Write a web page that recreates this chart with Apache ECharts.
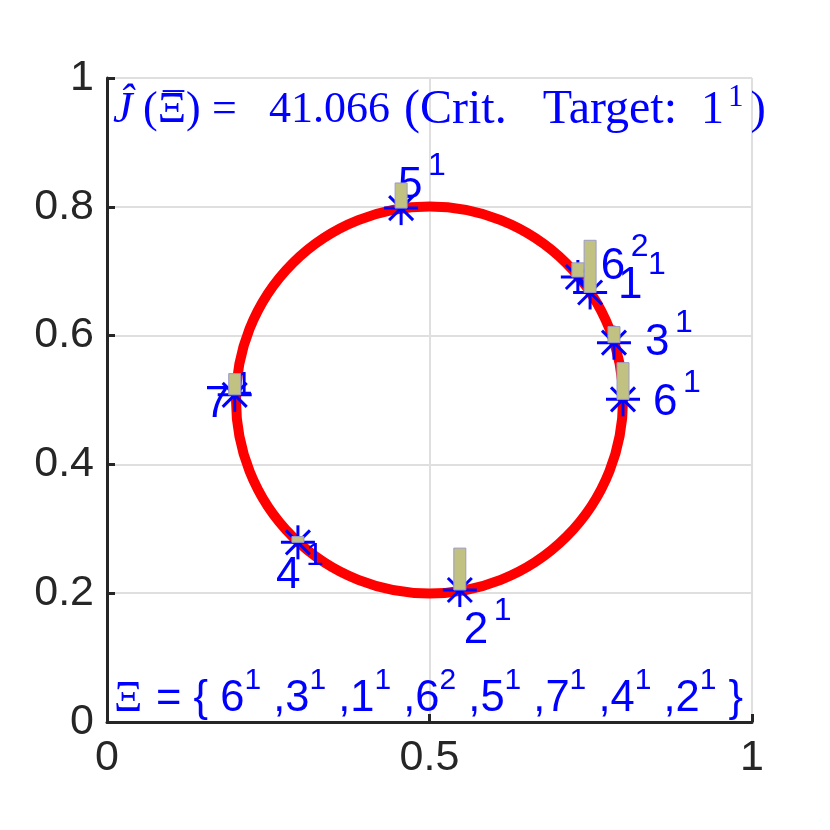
<!DOCTYPE html>
<html>
<head>
<meta charset="utf-8">
<script src="https://cdn.jsdelivr.net/npm/echarts@6/dist/echarts.min.js"></script>
<style>
  html, body { margin: 0; padding: 0; background: #fff; }
  #chart { width: 830px; height: 830px; }
</style>
</head>
<body>
<div id="chart"></div>
<script>
// route points (x, y) with their node id and visit number
const nodeIds = ['6', '3', '1', '6', '5', '7', '4', '2'];
const visits = ['1', '1', '1', '2', '1', '1', '1', '1'];
const xs = [0.800, 0.786, 0.749, 0.730, 0.456, 0.198, 0.296, 0.547];
const ys = [0.501, 0.589, 0.667, 0.691, 0.798, 0.508, 0.279, 0.205];
// height of the little bar drawn above each point
const barHeights = [0.057, 0.025, 0.081, 0.022, 0.039, 0.033, 0.009, 0.065];

// reference circle: centre and radius
const circleCenter = [0.5, 0.5];
const circleRadius = 0.3;

const costValue = '41.066';
const critTarget = '1';
const critVisit = '1';

// label placement next to each point (pixels from the point: left edge, middle)
const labelOffsets = [[30, 4], [31, 0], [28, -7], [23, -10], [-3, -22], [-30, 10], [-22, 34], [4, 41]];

const BLUE = '#0000ff';
const AXIS = '#262626';

const chart = echarts.init(document.getElementById('chart'));

const pointData = xs.map((x, i) => [x, ys[i], barHeights[i], i]);

// Ξ = { 6¹ ,3¹ ,... }
const routeText = '{x|Ξ} = { ' +
  nodeIds.map((n, i) => n + '{s|' + visits[i] + '}').join(' ,') + ' }';

// latex-like title; the first pieces sit in boxes to keep the wide math spacing
const serif = (extra) => Object.assign({
  fontFamily: 'Liberation Serif', fontSize: 44, fontWeight: 'normal', color: BLUE, lineHeight: 57
}, extra);

chart.setOption({
  animation: false,
  backgroundColor: '#fff',
  title: [
    {
      left: 113,
      top: 82,
      padding: 0,
      text: '{a|Ĵ}{b|(Ξ)}{c|=}{d|' + costValue + '}{e|(Crit.   Target:  }{g|' + critTarget + '}{s|' + critVisit + '}{h|)}',
      textStyle: {
        fontWeight: 'normal',
        rich: {
          a: serif({ fontStyle: 'italic', width: 30 }),
          b: serif({ width: 69 }),
          c: serif({ width: 57 }),
          d: serif({ width: 135 }),
          e: serif({ fontSize: 48 }),
          g: serif({ fontSize: 46 }),
          s: serif({ fontSize: 31, lineHeight: 12, padding: [0, 7, 0, 4], verticalAlign: 'top' }),
          h: serif({ fontSize: 46 })
        }
      }
    },
    {
      // bar over Ξ
      left: 163,
      top: 90,
      padding: 0,
      text: '¯',
      textStyle: { fontFamily: 'Liberation Serif', fontSize: 42, fontWeight: 'normal', color: BLUE }
    },
    {
      left: 114,
      top: 666,
      padding: 0,
      text: routeText,
      textStyle: {
        fontFamily: 'Liberation Sans',
        fontSize: 43.5,
        fontWeight: 'normal',
        color: BLUE,
        lineHeight: 66,
        rich: {
          x: { fontFamily: 'Liberation Serif', fontSize: 44, fontWeight: 'normal', color: BLUE, lineHeight: 66, width: 30 },
          s: { fontFamily: 'Liberation Sans', fontSize: 30, fontWeight: 'normal', color: BLUE, lineHeight: 11, verticalAlign: 'top' }
        }
      }
    }
  ],
  grid: { left: 107, right: 78, top: 78, bottom: 108 },
  xAxis: {
    type: 'value',
    min: 0,
    max: 1,
    interval: 0.5,
    axisLine: { show: true, onZero: false, lineStyle: { color: AXIS, width: 3 } },
    axisTick: { show: true, inside: true, length: 8, lineStyle: { color: AXIS, width: 3 } },
    axisLabel: { fontFamily: 'Liberation Sans', fontSize: 43, color: AXIS, margin: 15 },
    splitLine: { show: true, lineStyle: { color: '#dfdfdf', width: 2 } }
  },
  yAxis: {
    type: 'value',
    min: 0,
    max: 1,
    interval: 0.2,
    axisLine: { show: true, onZero: false, lineStyle: { color: AXIS, width: 3 } },
    axisTick: { show: true, inside: true, length: 8, lineStyle: { color: AXIS, width: 3 } },
    axisLabel: { fontFamily: 'Liberation Sans', fontSize: 43, color: AXIS, margin: 13 },
    splitLine: { show: true, lineStyle: { color: '#dfdfdf', width: 2 } }
  },
  series: [
    {
      // red circle
      type: 'custom',
      z: 2,
      data: [[circleCenter[0], circleCenter[1], circleRadius]],
      encode: { x: 0, y: 1 },
      renderItem: (params, api) => {
        const c = api.coord([api.value(0), api.value(1)]);
        const r = api.size([api.value(2), 0])[0];
        return {
          type: 'circle',
          shape: { cx: c[0], cy: c[1], r: r },
          style: { fill: null, stroke: '#ff0000', lineWidth: 10 }
        };
      }
    },
    {
      // asterisk markers
      type: 'custom',
      z: 3,
      data: pointData,
      encode: { x: 0, y: 1 },
      renderItem: (params, api) => {
        const p = api.coord([api.value(0), api.value(1)]);
        const a = 17, d = 12;
        const seg = (x1, y1, x2, y2) => ({
          type: 'line',
          shape: { x1: p[0] + x1, y1: p[1] + y1, x2: p[0] + x2, y2: p[1] + y2 },
          style: { stroke: BLUE, lineWidth: 3 }
        });
        return {
          type: 'group',
          children: [seg(-a, 0, a, 0), seg(0, -a, 0, a), seg(-d, -d, d, d), seg(-d, d, d, -d)]
        };
      }
    },
    {
      // node labels with visit superscript
      type: 'custom',
      z: 4,
      data: pointData,
      encode: { x: 0, y: 1 },
      renderItem: (params, api) => {
        const i = api.value(3);
        const p = api.coord([api.value(0), api.value(1)]);
        const off = labelOffsets[i];
        const lx = p[0] + off[0], ly = p[1] + off[1];
        return {
          type: 'group',
          children: [
            {
              type: 'text',
              x: lx, y: ly,
              style: { text: nodeIds[i], fill: BLUE, fontSize: 44, fontFamily: 'Liberation Sans', align: 'left', verticalAlign: 'middle' }
            },
            {
              type: 'text',
              x: lx + 30, y: ly - 20,
              style: { text: visits[i], fill: BLUE, fontSize: 32, fontFamily: 'Liberation Sans', align: 'left', verticalAlign: 'middle' }
            }
          ]
        };
      }
    },
    {
      // bars standing on each point
      type: 'custom',
      z: 5,
      data: pointData,
      encode: { x: 0, y: 1 },
      renderItem: (params, api) => {
        const x = api.value(0), y = api.value(1), h = api.value(2);
        const p0 = api.coord([x, y]);
        const p1 = api.coord([x, y + h]);
        return {
          type: 'rect',
          shape: { x: p0[0] - 6, y: p1[1], width: 12, height: p0[1] - p1[1] },
          style: { fill: '#c1c182', stroke: '#9a9ac8', lineWidth: 1 }
        };
      }
    }
  ]
});
</script>
</body>
</html>
